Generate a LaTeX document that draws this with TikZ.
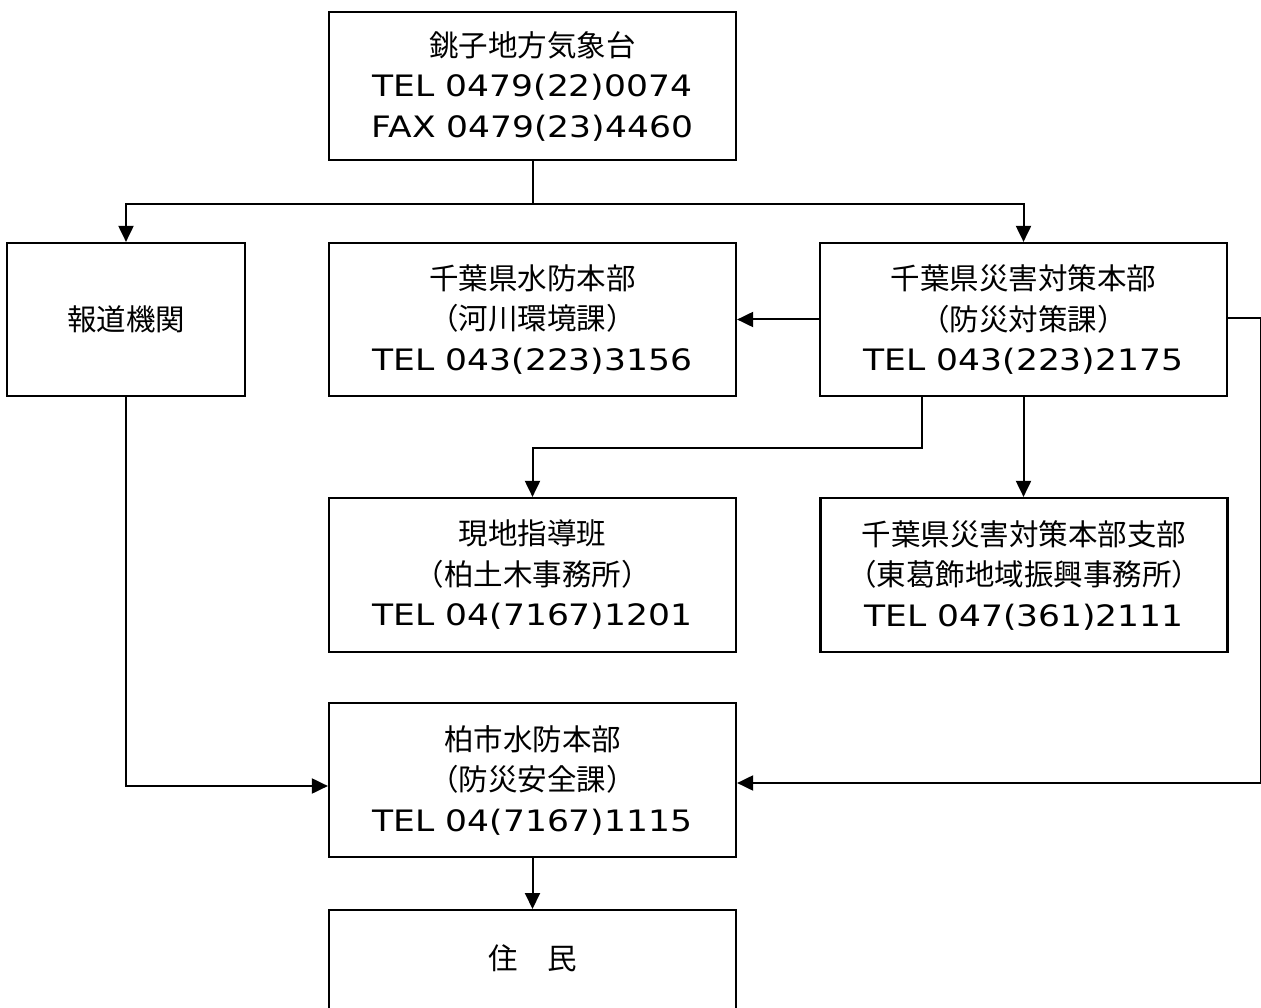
\documentclass[tikz,border=0pt]{standalone}
\usepackage{fontspec}
\setmainfont{DejaVu Sans}[FakeStretch=1.17]
\newfontfamily\jp{Noto Sans CJK JP}
\usetikzlibrary{arrows.meta}
\begin{document}
\begin{tikzpicture}[x=1pt,y=-1pt,
  box/.style={draw, line width=2.2pt, inner sep=0pt, minimum width=407pt, minimum height=153pt, align=center, font=\fontsize{29.5}{40.5}\selectfont},
  lbl/.style={inner sep=0pt, font=\fontsize{29.5}{40.5}\selectfont\jp},
  conn/.style={line width=2pt},
  arr/.style={conn, -{Triangle[length=16pt,width=15pt]}},
]
\useasboundingbox (0,0) rectangle (1261,1008);
\clip (0,0) rectangle (1261,1008);

\node[box, minimum height=148pt] (kisho) at (532.5,86) {{\jp 銚子地方気象台}\\TEL 0479(22)0074\\FAX 0479(23)4460};
\node[box, minimum width=238pt] (houdou) at (126,319.5) {\jp 報道機関};
\node[box] (suibou) at (532.5,319.5) {{\jp 千葉県水防本部}\\{\jp （河川環境課）}\\TEL 043(223)3156};
\node[box] (saigai) at (1023.5,319.5) {{\jp 千葉県災害対策本部}\\{\jp （防災対策課）}\\TEL 043(223)2175};
\node[box, minimum height=154pt] (genchi) at (532.5,575) {{\jp 現地指導班}\\{\jp （柏土木事務所）}\\TEL 04(7167)1201};
\node[box, minimum height=154pt] (shibu) at (1024,575) {{\jp 千葉県災害対策本部支部}\\{\jp （東葛飾地域振興事務所）}\\TEL 047(361)2111};
\node[box, minimum height=154pt] (kashiwa) at (532.5,780) {{\jp 柏市水防本部}\\{\jp （防災安全課）}\\TEL 04(7167)1115};
\node[box, minimum height=152pt, anchor=north] (jumin) at (532.5,909) {};
\node[lbl] (jumintext) at (532.5,958) {住　民};

\draw[conn] (kisho.south) -- ++(0,43) coordinate (split);
\draw[arr] (split) -| (houdou.north);
\draw[arr] (split) -| (saigai.north);
\draw[arr] (saigai.west) -- (suibou.east);
\draw[arr] ([yshift=1.5pt]saigai.east) -- ++(33,0) |- ([yshift=-3pt]kashiwa.east);
\draw[arr] ([xshift=-101.5pt]saigai.south) -- ++(0,51) -| (genchi.north);
\draw[arr] (saigai.south) -- (saigai.south |- shibu.north);
\draw[arr] (houdou.south) |- ([yshift=-6pt]kashiwa.west);
\draw[arr] (kashiwa.south) -- (jumin.north);
\end{tikzpicture}
\end{document}
